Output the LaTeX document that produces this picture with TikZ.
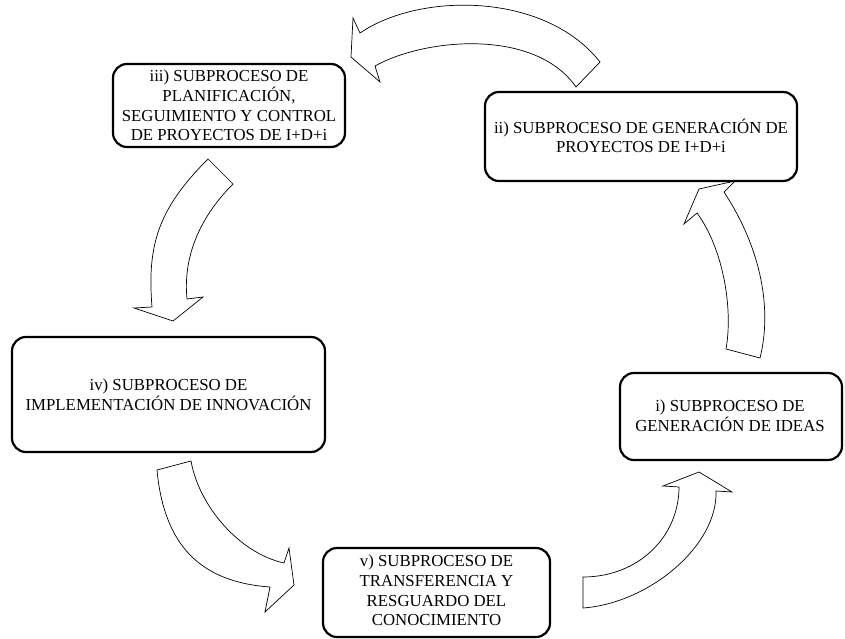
\documentclass[tikz,border=0pt]{standalone}
\usepackage{fontspec}
\setmainfont{Liberation Serif}
\begin{document}
\begin{tikzpicture}[x=1pt,y=-1pt,
  box/.style={draw, line width=2.2pt, rounded corners=14pt, inner sep=0pt},
  txt/.style={align=center, inner sep=0pt, font=\fontsize{16.8}{19.6}\selectfont},
  bigarrow/.style={draw, line width=0.7pt, fill=white, line join=miter}]
\useasboundingbox (0,0) rectangle (845,639);

% curved block arrows
\draw[bigarrow] (600,62) .. controls (545,-8) and (420,-8) .. (360,33) -- (353,18) -- (351,57) -- (380,82) -- (375,66) .. controls (425,38) and (535,28) .. (576,87) -- cycle;
\draw[bigarrow] (208,159) .. controls (158,209) and (147,245) .. (152,307) -- (134,308) -- (173,321) -- (203,297) -- (187,299) .. controls (183,259) and (198,219) .. (233,184) -- cycle;
\draw[bigarrow] (157,470) .. controls (164,545) and (200,582) .. (270,587) -- (265,612) -- (294,585) -- (289,548) -- (284,563) .. controls (239,553) and (199,506) .. (191,461) -- cycle;
\draw[bigarrow] (583,577) .. controls (638,577) and (679,537) .. (679,487) -- (663,486) -- (699,472) -- (732,492) -- (716,491) .. controls (718,545) and (650,603) .. (583,608) -- cycle;
\draw[bigarrow] (726,349) .. controls (733,310) and (724,250) .. (697,213) -- (684,224) -- (699,189) -- (735,181) -- (724,192) .. controls (762,250) and (772,310) .. (760,358) -- cycle;

% boxes
\node[box, minimum width=232pt, minimum height=83pt] (b3) at (229,105.5) {};
\node[box, minimum width=312pt, minimum height=89pt] (b2) at (641,136.5) {};
\node[box, minimum width=313pt, minimum height=115pt] (b4) at (168.5,394.5) {};
\node[box, minimum width=227pt, minimum height=89pt] (b5) at (436.5,592.5) {};
\node[box, minimum width=222pt, minimum height=87pt] (b1) at (731,416.5) {};

% texts
\node[txt] (t3) at (229,105.5) {iii) SUBPROCESO DE\\PLANIFICACIÓN,\\SEGUIMIENTO Y CONTROL\\DE PROYECTOS DE I+D+i};
\node[txt] (t2) at (641,136) {ii) SUBPROCESO DE GENERACIÓN DE\\PROYECTOS DE I+D+i};
\node[txt] (t4) at (168.5,395) {iv) SUBPROCESO DE\\IMPLEMENTACIÓN DE INNOVACIÓN};
\node[txt] (t5) at (436.5,590.5) {v) SUBPROCESO DE\\TRANSFERENCIA Y\\RESGUARDO DEL\\CONOCIMIENTO};
\node[txt] (t1) at (730,416) {i) SUBPROCESO DE\\GENERACIÓN DE IDEAS};
\end{tikzpicture}
\end{document}
